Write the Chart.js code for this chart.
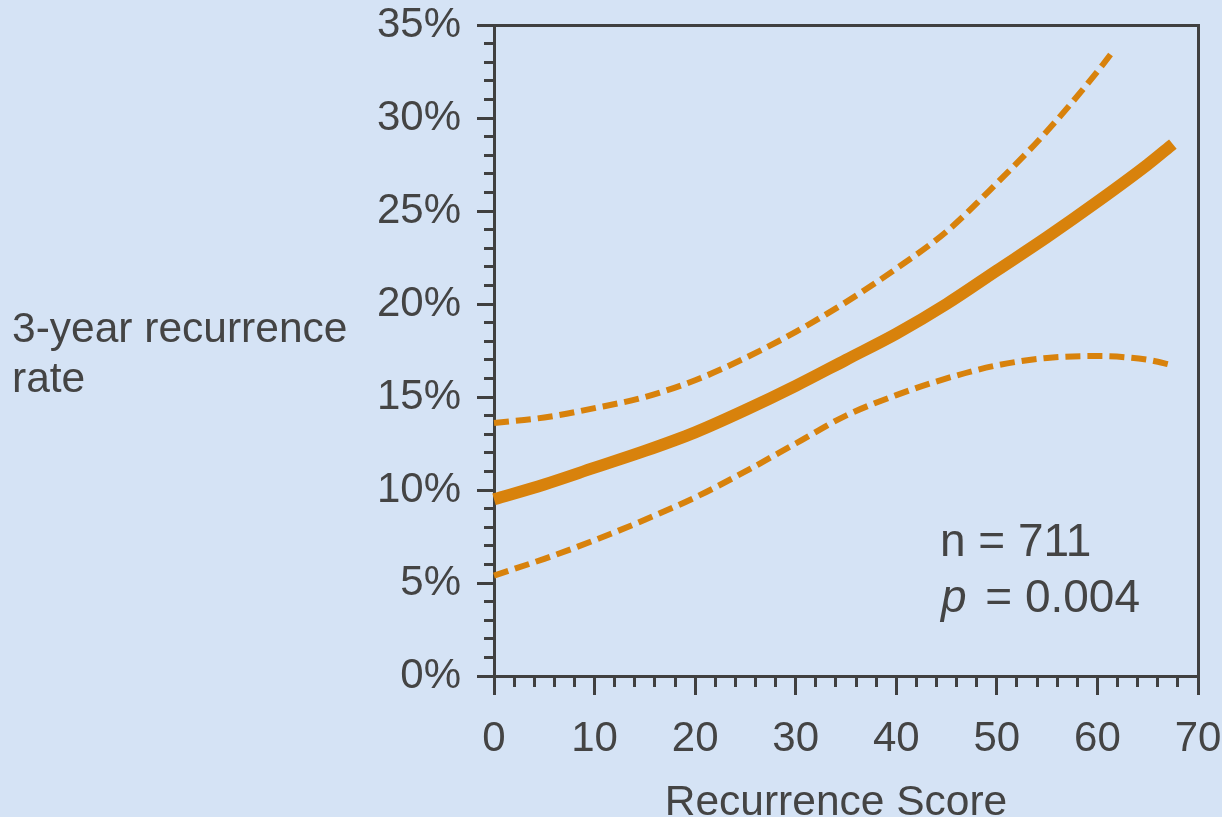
<!DOCTYPE html>
<html>
<head>
<meta charset="utf-8">
<script src="https://cdn.jsdelivr.net/npm/chart.js@4"></script>
<style>
  html, body { margin: 0; padding: 0; background: #d5e3f5; }
</style>
</head>
<body>
<canvas id="recurrenceChart" width="1222" height="817"></canvas>
<script>
// values (score -> 3-year recurrence rate, %)
const scoreMain = [0, 5, 10, 15, 20, 25, 30, 35, 40, 45, 50, 55, 60, 65, 67.5];
const rateMain = [9.5, 10.3, 11.2, 12.1, 13.1, 14.3, 15.6, 17.0, 18.4, 20.0, 21.8, 23.6, 25.5, 27.5, 28.6];
const scoreUpper = [0, 5, 10, 15, 20, 25, 30, 35, 40, 45, 50, 55, 60, 61.7];
const rateUpper = [13.6, 13.9, 14.4, 15.0, 15.9, 17.1, 18.5, 20.1, 21.9, 23.9, 26.5, 29.3, 32.5, 33.7];
const scoreLower = [0, 5, 10, 15, 20, 25, 30, 35, 40, 45, 50, 55, 60, 65, 67.5];
const rateLower = [5.4, 6.3, 7.3, 8.4, 9.6, 11.0, 12.5, 14.0, 15.1, 16.0, 16.7, 17.1, 17.2, 17.0, 16.7];

const xTicksMajor = 10, xTicksMinor = 2;
const yTicksMajor = 5, yTicksMinor = 1;
const sampleSize = 'n = 711';
const pValue = '0.004';

const ORANGE = '#d8820c';
const INK = '#444444';
const AXIS = '#404040';
const FONT = '"Liberation Sans", Arial, sans-serif';

Chart.defaults.font.family = FONT;
Chart.defaults.font.size = 42;
Chart.defaults.color = INK;

function toPoints(xs, ys) {
    return xs.map((x, i) => ({ x: x, y: ys[i] }));
}

// axis titles and n / p annotation, drawn as canvas text
const sideText = {
    id: 'sideText',
    afterDraw(chart) {
        const ctx = chart.ctx;
        ctx.save();
        ctx.fillStyle = INK;
        ctx.textBaseline = 'alphabetic';
        ctx.textAlign = 'left';
        ctx.font = '42.5px ' + FONT;
        ctx.fillText('3-year recurrence', 12, 342);
        ctx.fillText('rate', 12, 392);

        ctx.textAlign = 'center';
        ctx.fillText('Recurrence Score', 836, 815);

        ctx.textAlign = 'left';
        ctx.font = '46px ' + FONT;
        ctx.fillText(sampleSize, 940, 556);
        ctx.font = 'italic 46px ' + FONT;
        ctx.fillText('p', 941, 612);
        ctx.font = '46px ' + FONT;
        ctx.textAlign = 'right';
        ctx.fillText('= ' + pValue, 1140, 612);
        ctx.restore();
    }
};

const noLabels = { display: false };

// keep the tick labels from pushing the plot area inward
function noEdgePadding(s) {
    s.paddingTop = 0;
    s.paddingBottom = 0;
    s.paddingLeft = 0;
    s.paddingRight = 0;
}

new Chart(document.getElementById('recurrenceChart'), {
    type: 'line',
    data: {
        datasets: [
            {
                label: 'estimate',
                data: toPoints(scoreMain, rateMain),
                borderColor: ORANGE,
                borderWidth: 12,
                pointRadius: 0,
                cubicInterpolationMode: 'monotone',
                clip: false
            },
            {
                label: 'upper',
                data: toPoints(scoreUpper, rateUpper),
                borderColor: ORANGE,
                borderWidth: 6,
                borderDash: [15, 7],
                pointRadius: 0,
                cubicInterpolationMode: 'monotone',
                clip: false
            },
            {
                label: 'lower',
                data: toPoints(scoreLower, rateLower),
                borderColor: ORANGE,
                borderWidth: 6,
                borderDash: [15, 7],
                pointRadius: 0,
                cubicInterpolationMode: 'monotone',
                clip: false
            }
        ]
    },
    options: {
        responsive: false,
        animation: false,
        layout: { padding: { left: 0, top: 25, right: 24, bottom: 0 } },
        plugins: {
            legend: { display: false },
            tooltip: { enabled: false }
        },
        scales: {
            x: {
                type: 'linear',
                position: 'bottom',
                weight: 1,
                min: 0,
                max: 70,
                ticks: { stepSize: xTicksMajor, padding: 19, maxRotation: 0, autoSkip: false },
                grid: { drawOnChartArea: false, tickLength: 19, tickWidth: 3, tickColor: AXIS },
                border: { color: AXIS, width: 3 },
                afterFit: s => { s.height = 141; noEdgePadding(s); }
            },
            xMinor: {
                type: 'linear',
                position: 'bottom',
                weight: 0,
                min: 0,
                max: 70,
                ticks: Object.assign({ stepSize: xTicksMinor }, noLabels),
                grid: { drawOnChartArea: false, tickLength: 11, tickWidth: 3, tickColor: AXIS },
                border: { display: false },
                afterFit: s => { s.height = 0; noEdgePadding(s); }
            },
            y: {
                type: 'linear',
                position: 'left',
                weight: 1,
                min: 0,
                max: 35,
                ticks: { stepSize: yTicksMajor, padding: 16, callback: v => v + '%' },
                grid: { drawOnChartArea: false, tickLength: 17, tickWidth: 3, tickColor: AXIS },
                border: { color: AXIS, width: 3 },
                afterFit: s => { s.width = 494; noEdgePadding(s); }
            },
            yMinor: {
                type: 'linear',
                position: 'left',
                weight: 0,
                min: 0,
                max: 35,
                ticks: Object.assign({ stepSize: yTicksMinor }, noLabels),
                grid: { drawOnChartArea: false, tickLength: 10, tickWidth: 3, tickColor: AXIS },
                border: { display: false },
                afterFit: s => { s.width = 0; noEdgePadding(s); }
            },
            xTop: {
                type: 'linear',
                position: 'top',
                min: 0,
                max: 70,
                ticks: noLabels,
                grid: { drawOnChartArea: false, drawTicks: false },
                border: { color: AXIS, width: 3 },
                afterFit: s => { s.height = 0; noEdgePadding(s); }
            },
            yRight: {
                type: 'linear',
                position: 'right',
                min: 0,
                max: 35,
                ticks: noLabels,
                grid: { drawOnChartArea: false, drawTicks: false },
                border: { color: AXIS, width: 3 },
                afterFit: s => { s.width = 0; noEdgePadding(s); }
            }
        }
    },
    plugins: [sideText]
});
</script>
</body>
</html>
